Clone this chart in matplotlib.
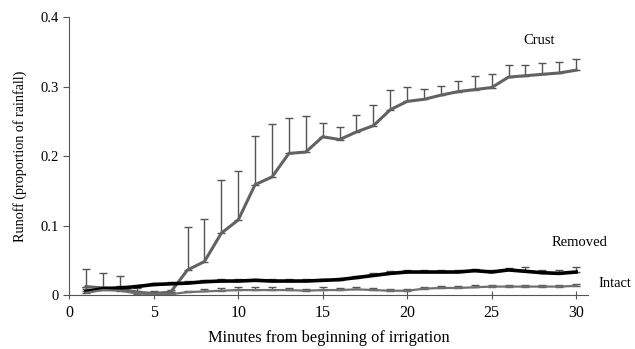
import numpy as np
from matplotlib import pyplot as plt

plt.rcParams['font.family'] = ['Liberation Serif', 'DejaVu Serif']

minutes = [1, 2, 3, 4, 5, 6, 7, 8, 9, 10, 11, 12, 13, 14, 15,
           16, 17, 18, 19, 20, 21, 22, 23, 24, 25, 26, 27, 28, 29, 30]

crust = [0.012, 0.010, 0.009, 0.004, 0.002, 0.004, 0.036, 0.048, 0.089, 0.108,
         0.159, 0.170, 0.204, 0.206, 0.228, 0.224, 0.235, 0.244, 0.267, 0.279,
         0.282, 0.288, 0.293, 0.296, 0.299, 0.314, 0.316, 0.318, 0.320, 0.324]
crust_err = [0.026, 0.021, 0.018, 0.006, 0.004, 0.003, 0.062, 0.061, 0.077, 0.070,
             0.070, 0.076, 0.051, 0.052, 0.020, 0.018, 0.024, 0.030, 0.028, 0.021,
             0.015, 0.013, 0.015, 0.020, 0.019, 0.017, 0.016, 0.016, 0.016, 0.016]

removed = [0.005, 0.009, 0.010, 0.012, 0.015, 0.016, 0.017, 0.019, 0.020, 0.020,
           0.021, 0.020, 0.020, 0.020, 0.021, 0.022, 0.025, 0.028, 0.031, 0.033,
           0.033, 0.033, 0.033, 0.035, 0.033, 0.036, 0.034, 0.032, 0.031, 0.033]
removed_err = [0.003, 0.003, 0.003, 0.003, 0.002, 0.002, 0.003, 0.003, 0.003, 0.003,
               0.002, 0.003, 0.003, 0.003, 0.002, 0.002, 0.002, 0.003, 0.003, 0.003,
               0.003, 0.003, 0.003, 0.002, 0.003, 0.003, 0.006, 0.004, 0.005, 0.007]

intact = [0.003, 0.007, 0.006, 0.002, 0.001, 0.001, 0.004, 0.005, 0.006, 0.007,
          0.007, 0.007, 0.007, 0.006, 0.007, 0.007, 0.008, 0.007, 0.006, 0.006,
          0.009, 0.010, 0.010, 0.011, 0.012, 0.012, 0.012, 0.012, 0.012, 0.013]
intact_err = [0.009, 0.004, 0.004, 0.003, 0.003, 0.003, 0.002, 0.003, 0.004, 0.004,
              0.004, 0.004, 0.003, 0.003, 0.004, 0.003, 0.003, 0.003, 0.002, 0.002,
              0.003, 0.003, 0.003, 0.003, 0.003, 0.002, 0.002, 0.002, 0.002, 0.003]

fig = plt.figure(figsize=(6.35, 3.49), dpi=100)
ax = fig.add_axes([0.109, 0.155, 0.817, 0.795])

zero = np.zeros(len(minutes))
series = [
    (crust, crust_err, "#626262", 2.2),
    (removed, removed_err, "black", 2.6),
    (intact, intact_err, "#707070", 1.6),
]
for values, err, colour, lw in series:
    ax.errorbar(minutes, values, yerr=[zero, err], color=colour, lw=lw,
                ecolor="#555555", elinewidth=1.0, capsize=3, capthick=1.0)

ax.text(27.8, 0.367, "Crust", fontsize=10.5, ha="center", va="center")
ax.text(30.2, 0.076, "Removed", fontsize=10.5, ha="center", va="center")
ax.text(31.3, 0.017, "Intact", fontsize=10.5, ha="left", va="center", clip_on=False)

ax.set_xlim(0, 30.7)
ax.set_ylim(0, 0.4)
ax.set_xticks([0, 5, 10, 15, 20, 25, 30])
ax.set_yticks([0, 0.1, 0.2, 0.3, 0.4])
ax.set_yticklabels(["0", "0.1", "0.2", "0.3", "0.4"])

for side in ["top", "right"]:
    ax.spines[side].set_visible(False)
for side in ["left", "bottom"]:
    ax.spines[side].set_color("#555555")
ax.tick_params(axis="x", direction="inout", length=6, color="#555555", labelsize=11.5, pad=4)
ax.tick_params(axis="y", direction="out", length=4, color="#555555", labelsize=10.5)

ax.set_xlabel("Minutes from beginning of irrigation", fontsize=11.8, labelpad=7)
ax.set_ylabel("Runoff (proportion of rainfall)", fontsize=10.2, labelpad=10)

fig.savefig("out.png", dpi=100)
